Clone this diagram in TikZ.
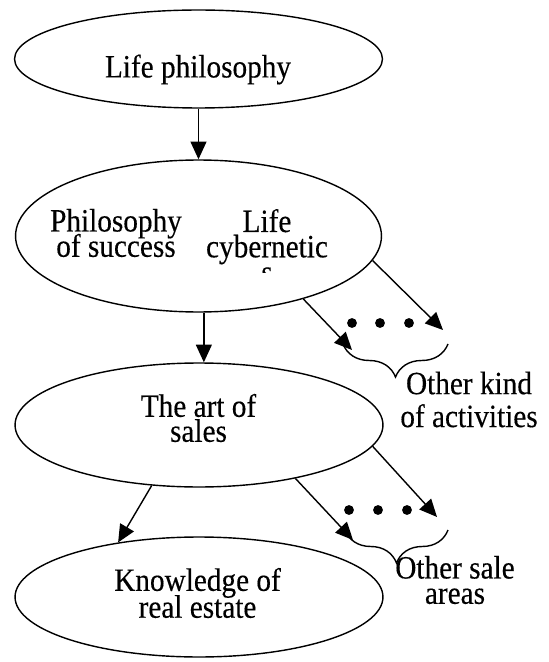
\documentclass[tikz,border=0pt]{standalone}
\usepackage{fontspec}
\setmainfont{Liberation Serif}[FakeStretch=0.9, FakeBold=0.3]
\usetikzlibrary{shapes.geometric,arrows.meta,decorations.pathreplacing}

\begin{document}
\begin{tikzpicture}[x=0.02cm, y=-0.02cm,
    oval/.style={draw, ellipse, line width=0.8pt, inner sep=0pt, minimum width=7.36cm},
    txt/.style={align=center, inner sep=0pt, font={\fontsize{18.5}{#1}\selectfont\lineskiplimit=-1em}},
    txt/.default=14.4pt,
    arr/.style={line width=0.8pt, -{Triangle[length=10pt, width=9pt]}},
    brc/.style={decorate, decoration={brace, amplitude=0.66cm}, line width=0.8pt}]
    \useasboundingbox (0,0) rectangle (548,662);

    % Ellipses
    \node[oval, minimum height=1.96cm] (life) at (198.5,59) {};
    \node[oval, minimum width=7.32cm, minimum height=3.04cm] (success) at (198.5,236) {};
    \node[oval, minimum height=2.48cm] (art) at (199,425) {};
    \node[oval, minimum height=2.4cm] (estate) at (199,597) {};

    % Texts
    \node[txt] (lifetxt) at (198,69.5) {Life philosophy};
    \node[txt] (succtxt) at (116,233) {Philosophy\\of success};
    \begin{scope}
        \clip (200,170) rectangle (360,272);
        \node[txt] (cybtxt) at (267,246) {Life\\cybernetic\\s};
    \end{scope}
    \node[txt=14.2pt] (arttxt) at (198.5,418) {The art of\\sales};
    \node[txt=15.3pt] (esttxt) at (197.5,593) {Knowledge of\\real estate};
    \node[txt=18.7pt] (other1) at (469,399.5) {Other kind\\of activities};
    \node[txt] (other2) at (455,580) {Other sale\\areas};

    % Free ends
    \coordinate (t1) at (352,350);
    \coordinate (t2) at (443,330);
    \coordinate (t3) at (353,540);
    \coordinate (t4) at (437,517);

    % Arrows
    \draw[arr] (life.south) -- (success.north);
    \draw[arr] (success.-86.6) -- (success.-86.6 |- art.north);
    \draw[arr] (art.232) -- (estate.146);
    \draw[arr] (success.-31) -- (t1);
    \draw[arr] (success.-8) -- (t2);
    \draw[arr] (art.-29) -- (t3);
    \draw[arr] (art.-7.5) -- (t4);

    % Dots
    \foreach \x in {352,380,409} {
        \fill (\x,323) circle (2.8pt);
    }
    \foreach \x in {349,378,407} {
        \fill (\x,510) circle (2.8pt);
    }

    % Braces
    \coordinate (b1r) at (448,344);
    \coordinate (b1l) at (343,344);
    \coordinate (b2r) at (448,530);
    \coordinate (b2l) at (345,530);
    \draw[brc] (b1r) -- (b1l);
    \draw[brc] (b2r) -- (b2l);
\end{tikzpicture}
\end{document}
